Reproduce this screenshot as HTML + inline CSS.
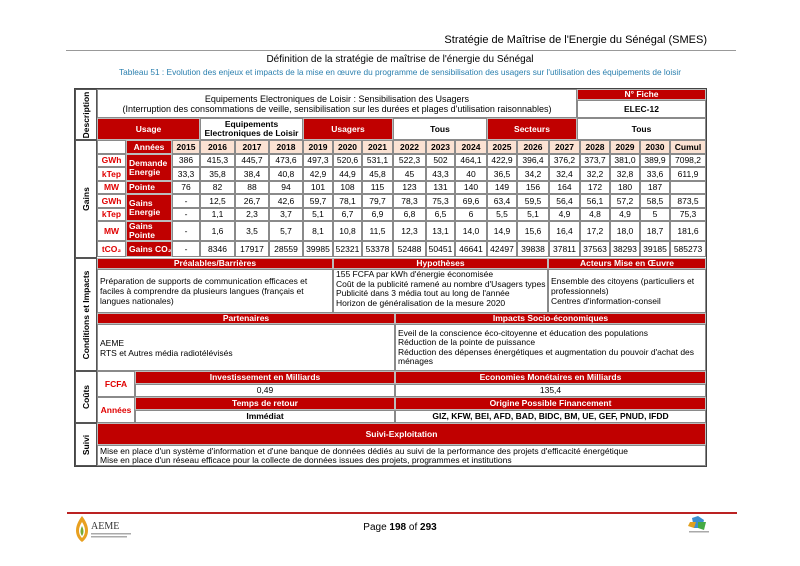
<!DOCTYPE html>
<html><head><meta charset="utf-8"><style>
body{margin:0;background:#fff;}
#p{position:relative;width:800px;height:566px;overflow:hidden;font-family:"Liberation Sans",sans-serif;}
.c{position:absolute;box-sizing:border-box;border:1px solid #8a8a8a;display:flex;align-items:center;justify-content:center;text-align:center;font-size:8.5px;line-height:9px;color:#000;background:#fff;white-space:nowrap;}
.r{background:#c00000;color:#fff;font-weight:bold;border-color:#bbb;}
.k{background:#fbe2d3;font-weight:bold;}
.u{color:#e00000;font-weight:bold;}
.l{justify-content:flex-start;text-align:left;padding-left:2px;}
.t{position:absolute;white-space:nowrap;}
.v{position:absolute;box-sizing:border-box;border:1px solid #555;background:#fff;}
.v span{position:absolute;left:50%;top:50%;transform:translate(-50%,-50%) rotate(-90deg);font-weight:bold;font-size:8.5px;white-space:nowrap;}
</style></head><body><div id="p">
<div class="t" style="right:93px;top:34px;font-size:11px;">Stratégie de Maîtrise de l'Energie du Sénégal (SMES)</div>
<div style="position:absolute;left:66px;top:50px;width:670px;height:1px;background:#999;"></div>
<div class="t" style="left:0;width:800px;text-align:center;top:54px;font-size:10px;">Définition de la stratégie de maîtrise de l'énergie du Sénégal</div>
<div class="t" style="left:0;width:800px;text-align:center;top:67px;font-size:8.3px;color:#2a7fae;">Tableau 51 : Evolution des enjeux et impacts de la mise en œuvre du programme de sensibilisation des usagers sur l'utilisation des équipements de loisir</div>

<div style="position:absolute;left:74px;top:88px;width:633px;height:379px;border:1px solid #444;box-sizing:border-box;"></div>
<div class="v" style="left:75px;top:89px;width:22px;height:51px;"><span>Description</span></div>
<div class="v" style="left:75px;top:140px;width:22px;height:118px;"><span>Gains</span></div>
<div class="v" style="left:75px;top:258px;width:22px;height:113px;"><span>Conditions et Impacts</span></div>
<div class="v" style="left:75px;top:371px;width:22px;height:52px;"><span>Coûts</span></div>
<div class="v" style="left:75px;top:423px;width:22px;height:43px;"><span>Suivi</span></div>

<div class="c" style="left:97px;top:89px;width:480px;height:29px;flex-direction:column;font-size:9px;line-height:10px;">Equipements Electroniques de Loisir : Sensibilisation des Usagers<br>(Interruption des consommations de veille, sensibilisation sur les durées et plages d'utilisation raisonnables)</div>
<div class="c r" style="left:577px;top:89px;width:129px;height:11px;">N° Fiche</div>
<div class="c" style="left:577px;top:100px;width:129px;height:18px;font-weight:bold;">ELEC-12</div>
<div class="c r" style="left:97px;top:118px;width:103px;height:22px;">Usage</div>
<div class="c" style="left:200px;top:118px;width:103px;height:22px;font-weight:bold;line-height:9px;">Equipements<br>Electroniques de Loisir</div>
<div class="c r" style="left:303px;top:118px;width:90px;height:22px;">Usagers</div>
<div class="c" style="left:393px;top:118px;width:94px;height:22px;font-weight:bold;">Tous</div>
<div class="c r" style="left:487px;top:118px;width:90px;height:22px;">Secteurs</div>
<div class="c" style="left:577px;top:118px;width:129px;height:22px;font-weight:bold;">Tous</div>

<div class="c" style="left:97px;top:140px;width:29px;height:14px;"></div>
<div class="c r" style="left:126px;top:140px;width:46px;height:14px;">Années</div>
<div class="c k" style="left:172px;top:140px;width:28px;height:14px;">2015</div>
<div class="c k" style="left:200px;top:140px;width:35px;height:14px;">2016</div>
<div class="c k" style="left:235px;top:140px;width:34px;height:14px;">2017</div>
<div class="c k" style="left:269px;top:140px;width:34px;height:14px;">2018</div>
<div class="c k" style="left:303px;top:140px;width:30px;height:14px;">2019</div>
<div class="c k" style="left:333px;top:140px;width:29px;height:14px;">2020</div>
<div class="c k" style="left:362px;top:140px;width:31px;height:14px;">2021</div>
<div class="c k" style="left:393px;top:140px;width:33px;height:14px;">2022</div>
<div class="c k" style="left:426px;top:140px;width:29px;height:14px;">2023</div>
<div class="c k" style="left:455px;top:140px;width:32px;height:14px;">2024</div>
<div class="c k" style="left:487px;top:140px;width:30px;height:14px;">2025</div>
<div class="c k" style="left:517px;top:140px;width:32px;height:14px;">2026</div>
<div class="c k" style="left:549px;top:140px;width:31px;height:14px;">2027</div>
<div class="c k" style="left:580px;top:140px;width:30px;height:14px;">2028</div>
<div class="c k" style="left:610px;top:140px;width:30px;height:14px;">2029</div>
<div class="c k" style="left:640px;top:140px;width:30px;height:14px;">2030</div>
<div class="c k" style="left:670px;top:140px;width:36px;height:14px;">Cumul</div>

<div class="c u" style="left:97px;top:154px;width:29px;height:13px;">GWh</div>
<div class="c u" style="left:97px;top:167px;width:29px;height:14px;">kTep</div>
<div class="c u" style="left:97px;top:181px;width:29px;height:13px;">MW</div>
<div class="c u" style="left:97px;top:194px;width:29px;height:14px;">GWh</div>
<div class="c u" style="left:97px;top:208px;width:29px;height:13px;">kTep</div>
<div class="c u" style="left:97px;top:221px;width:29px;height:20px;">MW</div>
<div class="c u" style="left:97px;top:241px;width:29px;height:16px;">tCO₂</div>
<div class="c r l" style="left:126px;top:154px;width:46px;height:27px;">Demande<br>Energie</div>
<div class="c r l" style="left:126px;top:181px;width:46px;height:13px;">Pointe</div>
<div class="c r l" style="left:126px;top:194px;width:46px;height:27px;">Gains<br>Energie</div>
<div class="c r l" style="left:126px;top:221px;width:46px;height:20px;">Gains<br>Pointe</div>
<div class="c r l" style="left:126px;top:241px;width:46px;height:16px;">Gains CO₂</div>

<div class="c" style="left:172px;top:154px;width:28px;height:13px;">386</div>
<div class="c" style="left:200px;top:154px;width:35px;height:13px;">415,3</div>
<div class="c" style="left:235px;top:154px;width:34px;height:13px;">445,7</div>
<div class="c" style="left:269px;top:154px;width:34px;height:13px;">473,6</div>
<div class="c" style="left:303px;top:154px;width:30px;height:13px;">497,3</div>
<div class="c" style="left:333px;top:154px;width:29px;height:13px;">520,6</div>
<div class="c" style="left:362px;top:154px;width:31px;height:13px;">531,1</div>
<div class="c" style="left:393px;top:154px;width:33px;height:13px;">522,3</div>
<div class="c" style="left:426px;top:154px;width:29px;height:13px;">502</div>
<div class="c" style="left:455px;top:154px;width:32px;height:13px;">464,1</div>
<div class="c" style="left:487px;top:154px;width:30px;height:13px;">422,9</div>
<div class="c" style="left:517px;top:154px;width:32px;height:13px;">396,4</div>
<div class="c" style="left:549px;top:154px;width:31px;height:13px;">376,2</div>
<div class="c" style="left:580px;top:154px;width:30px;height:13px;">373,7</div>
<div class="c" style="left:610px;top:154px;width:30px;height:13px;">381,0</div>
<div class="c" style="left:640px;top:154px;width:30px;height:13px;">389,9</div>
<div class="c" style="left:670px;top:154px;width:36px;height:13px;">7098,2</div>
<div class="c" style="left:172px;top:167px;width:28px;height:14px;">33,3</div>
<div class="c" style="left:200px;top:167px;width:35px;height:14px;">35,8</div>
<div class="c" style="left:235px;top:167px;width:34px;height:14px;">38,4</div>
<div class="c" style="left:269px;top:167px;width:34px;height:14px;">40,8</div>
<div class="c" style="left:303px;top:167px;width:30px;height:14px;">42,9</div>
<div class="c" style="left:333px;top:167px;width:29px;height:14px;">44,9</div>
<div class="c" style="left:362px;top:167px;width:31px;height:14px;">45,8</div>
<div class="c" style="left:393px;top:167px;width:33px;height:14px;">45</div>
<div class="c" style="left:426px;top:167px;width:29px;height:14px;">43,3</div>
<div class="c" style="left:455px;top:167px;width:32px;height:14px;">40</div>
<div class="c" style="left:487px;top:167px;width:30px;height:14px;">36,5</div>
<div class="c" style="left:517px;top:167px;width:32px;height:14px;">34,2</div>
<div class="c" style="left:549px;top:167px;width:31px;height:14px;">32,4</div>
<div class="c" style="left:580px;top:167px;width:30px;height:14px;">32,2</div>
<div class="c" style="left:610px;top:167px;width:30px;height:14px;">32,8</div>
<div class="c" style="left:640px;top:167px;width:30px;height:14px;">33,6</div>
<div class="c" style="left:670px;top:167px;width:36px;height:14px;">611,9</div>
<div class="c" style="left:172px;top:181px;width:28px;height:13px;">76</div>
<div class="c" style="left:200px;top:181px;width:35px;height:13px;">82</div>
<div class="c" style="left:235px;top:181px;width:34px;height:13px;">88</div>
<div class="c" style="left:269px;top:181px;width:34px;height:13px;">94</div>
<div class="c" style="left:303px;top:181px;width:30px;height:13px;">101</div>
<div class="c" style="left:333px;top:181px;width:29px;height:13px;">108</div>
<div class="c" style="left:362px;top:181px;width:31px;height:13px;">115</div>
<div class="c" style="left:393px;top:181px;width:33px;height:13px;">123</div>
<div class="c" style="left:426px;top:181px;width:29px;height:13px;">131</div>
<div class="c" style="left:455px;top:181px;width:32px;height:13px;">140</div>
<div class="c" style="left:487px;top:181px;width:30px;height:13px;">149</div>
<div class="c" style="left:517px;top:181px;width:32px;height:13px;">156</div>
<div class="c" style="left:549px;top:181px;width:31px;height:13px;">164</div>
<div class="c" style="left:580px;top:181px;width:30px;height:13px;">172</div>
<div class="c" style="left:610px;top:181px;width:30px;height:13px;">180</div>
<div class="c" style="left:640px;top:181px;width:30px;height:13px;">187</div>
<div class="c" style="left:670px;top:181px;width:36px;height:13px;"></div>
<div class="c" style="left:172px;top:194px;width:28px;height:14px;">-</div>
<div class="c" style="left:200px;top:194px;width:35px;height:14px;">12,5</div>
<div class="c" style="left:235px;top:194px;width:34px;height:14px;">26,7</div>
<div class="c" style="left:269px;top:194px;width:34px;height:14px;">42,6</div>
<div class="c" style="left:303px;top:194px;width:30px;height:14px;">59,7</div>
<div class="c" style="left:333px;top:194px;width:29px;height:14px;">78,1</div>
<div class="c" style="left:362px;top:194px;width:31px;height:14px;">79,7</div>
<div class="c" style="left:393px;top:194px;width:33px;height:14px;">78,3</div>
<div class="c" style="left:426px;top:194px;width:29px;height:14px;">75,3</div>
<div class="c" style="left:455px;top:194px;width:32px;height:14px;">69,6</div>
<div class="c" style="left:487px;top:194px;width:30px;height:14px;">63,4</div>
<div class="c" style="left:517px;top:194px;width:32px;height:14px;">59,5</div>
<div class="c" style="left:549px;top:194px;width:31px;height:14px;">56,4</div>
<div class="c" style="left:580px;top:194px;width:30px;height:14px;">56,1</div>
<div class="c" style="left:610px;top:194px;width:30px;height:14px;">57,2</div>
<div class="c" style="left:640px;top:194px;width:30px;height:14px;">58,5</div>
<div class="c" style="left:670px;top:194px;width:36px;height:14px;">873,5</div>
<div class="c" style="left:172px;top:208px;width:28px;height:13px;">-</div>
<div class="c" style="left:200px;top:208px;width:35px;height:13px;">1,1</div>
<div class="c" style="left:235px;top:208px;width:34px;height:13px;">2,3</div>
<div class="c" style="left:269px;top:208px;width:34px;height:13px;">3,7</div>
<div class="c" style="left:303px;top:208px;width:30px;height:13px;">5,1</div>
<div class="c" style="left:333px;top:208px;width:29px;height:13px;">6,7</div>
<div class="c" style="left:362px;top:208px;width:31px;height:13px;">6,9</div>
<div class="c" style="left:393px;top:208px;width:33px;height:13px;">6,8</div>
<div class="c" style="left:426px;top:208px;width:29px;height:13px;">6,5</div>
<div class="c" style="left:455px;top:208px;width:32px;height:13px;">6</div>
<div class="c" style="left:487px;top:208px;width:30px;height:13px;">5,5</div>
<div class="c" style="left:517px;top:208px;width:32px;height:13px;">5,1</div>
<div class="c" style="left:549px;top:208px;width:31px;height:13px;">4,9</div>
<div class="c" style="left:580px;top:208px;width:30px;height:13px;">4,8</div>
<div class="c" style="left:610px;top:208px;width:30px;height:13px;">4,9</div>
<div class="c" style="left:640px;top:208px;width:30px;height:13px;">5</div>
<div class="c" style="left:670px;top:208px;width:36px;height:13px;">75,3</div>
<div class="c" style="left:172px;top:221px;width:28px;height:20px;">-</div>
<div class="c" style="left:200px;top:221px;width:35px;height:20px;">1,6</div>
<div class="c" style="left:235px;top:221px;width:34px;height:20px;">3,5</div>
<div class="c" style="left:269px;top:221px;width:34px;height:20px;">5,7</div>
<div class="c" style="left:303px;top:221px;width:30px;height:20px;">8,1</div>
<div class="c" style="left:333px;top:221px;width:29px;height:20px;">10,8</div>
<div class="c" style="left:362px;top:221px;width:31px;height:20px;">11,5</div>
<div class="c" style="left:393px;top:221px;width:33px;height:20px;">12,3</div>
<div class="c" style="left:426px;top:221px;width:29px;height:20px;">13,1</div>
<div class="c" style="left:455px;top:221px;width:32px;height:20px;">14,0</div>
<div class="c" style="left:487px;top:221px;width:30px;height:20px;">14,9</div>
<div class="c" style="left:517px;top:221px;width:32px;height:20px;">15,6</div>
<div class="c" style="left:549px;top:221px;width:31px;height:20px;">16,4</div>
<div class="c" style="left:580px;top:221px;width:30px;height:20px;">17,2</div>
<div class="c" style="left:610px;top:221px;width:30px;height:20px;">18,0</div>
<div class="c" style="left:640px;top:221px;width:30px;height:20px;">18,7</div>
<div class="c" style="left:670px;top:221px;width:36px;height:20px;">181,6</div>
<div class="c" style="left:172px;top:241px;width:28px;height:16px;">-</div>
<div class="c" style="left:200px;top:241px;width:35px;height:16px;">8346</div>
<div class="c" style="left:235px;top:241px;width:34px;height:16px;">17917</div>
<div class="c" style="left:269px;top:241px;width:34px;height:16px;">28559</div>
<div class="c" style="left:303px;top:241px;width:30px;height:16px;">39985</div>
<div class="c" style="left:333px;top:241px;width:29px;height:16px;">52321</div>
<div class="c" style="left:362px;top:241px;width:31px;height:16px;">53378</div>
<div class="c" style="left:393px;top:241px;width:33px;height:16px;">52488</div>
<div class="c" style="left:426px;top:241px;width:29px;height:16px;">50451</div>
<div class="c" style="left:455px;top:241px;width:32px;height:16px;">46641</div>
<div class="c" style="left:487px;top:241px;width:30px;height:16px;">42497</div>
<div class="c" style="left:517px;top:241px;width:32px;height:16px;">39838</div>
<div class="c" style="left:549px;top:241px;width:31px;height:16px;">37811</div>
<div class="c" style="left:580px;top:241px;width:30px;height:16px;">37563</div>
<div class="c" style="left:610px;top:241px;width:30px;height:16px;">38293</div>
<div class="c" style="left:640px;top:241px;width:30px;height:16px;">39185</div>
<div class="c" style="left:670px;top:241px;width:36px;height:16px;">585273</div>

<div class="c r" style="left:97px;top:258px;width:236px;height:11px;">Préalables/Barrières</div>
<div class="c r" style="left:333px;top:258px;width:215px;height:11px;">Hypothèses</div>
<div class="c r" style="left:548px;top:258px;width:158px;height:11px;">Acteurs Mise en Œuvre</div>
<div class="c l" style="left:97px;top:269px;width:236px;height:44px;white-space:normal;line-height:10px;">Préparation de supports de communication efficaces et faciles à comprendre da plusieurs langues (français et langues nationales)</div>
<div class="c l" style="left:333px;top:269px;width:215px;height:44px;white-space:normal;line-height:9.5px;align-items:flex-start;">155 FCFA par kWh d'énergie économisée<br>Coût de la publicité ramené au nombre d'Usagers types<br>Publicité dans 3 média tout au long de l'année<br>Horizon de généralisation de la mesure 2020</div>
<div class="c l" style="left:548px;top:269px;width:158px;height:44px;white-space:normal;line-height:10px;">Ensemble des citoyens (particuliers et professionnels)<br>Centres d'information-conseil</div>
<div class="c r" style="left:97px;top:313px;width:298px;height:11px;">Partenaires</div>
<div class="c r" style="left:395px;top:313px;width:311px;height:11px;">Impacts Socio-économiques</div>
<div class="c l" style="left:97px;top:324px;width:298px;height:47px;line-height:10px;">AEME<br>RTS et Autres média radiotélévisés</div>
<div class="c l" style="left:395px;top:324px;width:311px;height:47px;white-space:normal;line-height:9.5px;">Eveil de la conscience éco-citoyenne et éducation des populations<br>Réduction de la pointe de puissance<br>Réduction des dépenses énergétiques et augmentation du pouvoir d'achat des ménages</div>

<div class="c u" style="left:97px;top:371px;width:38px;height:26px;">FCFA</div>
<div class="c r" style="left:135px;top:371px;width:260px;height:13px;">Investissement en Milliards</div>
<div class="c r" style="left:395px;top:371px;width:311px;height:13px;">Economies Monétaires en Milliards</div>
<div class="c" style="left:135px;top:384px;width:260px;height:13px;">0,49</div>
<div class="c" style="left:395px;top:384px;width:311px;height:13px;">135,4</div>
<div class="c u" style="left:97px;top:397px;width:38px;height:26px;">Années</div>
<div class="c r" style="left:135px;top:397px;width:260px;height:13px;">Temps de retour</div>
<div class="c r" style="left:395px;top:397px;width:311px;height:13px;">Origine Possible Financement</div>
<div class="c" style="left:135px;top:410px;width:260px;height:13px;font-weight:bold;">Immédiat</div>
<div class="c" style="left:395px;top:410px;width:311px;height:13px;font-weight:bold;">GIZ, KFW, BEI, AFD, BAD, BIDC, BM, UE, GEF, PNUD, IFDD</div>

<div class="c r" style="left:97px;top:423px;width:609px;height:22px;">Suivi-Exploitation</div>
<div class="c l" style="left:97px;top:445px;width:609px;height:21px;line-height:9px;">Mise en place d'un système d'information et d'une banque de données dédiés au suivi de la performance des projets d'efficacité énergétique<br>Mise en place d'un réseau efficace pour la collecte de données issues des projets, programmes et institutions</div>

<div style="position:absolute;left:67px;top:512px;width:670px;height:2px;background:#b22;"></div>
<div class="t" style="left:0;width:800px;text-align:center;top:522px;font-size:10px;">Page <b>198</b> of <b>293</b></div>
<svg style="position:absolute;left:70px;top:514px" width="70" height="30"><path d="M12 2 C4 12 4 22 12 28 C20 22 20 12 12 2Z" fill="#e8a020"/><path d="M12 8 C8 14 8 20 12 24 C16 20 16 14 12 8Z" fill="#fff"/><path d="M12 12 C10 16 10 19 12 22 C14 19 14 16 12 12Z" fill="#7a3"/><text x="21" y="15" font-size="10" font-family="Liberation Serif,serif" fill="#333">AEME</text><rect x="21" y="19" width="40" height="1.5" fill="#aaa"/><rect x="21" y="22" width="36" height="1.5" fill="#aaa"/></svg>
<svg style="position:absolute;left:684px;top:514px" width="30" height="26"><path d="M8 4 L14 2 L20 6 L18 14 L10 14Z" fill="#3a8fd0"/><path d="M6 8 L12 8 L10 14 L4 12Z" fill="#e0a020"/><path d="M14 8 L22 8 L20 16 L14 14Z" fill="#4a4"/><rect x="5" y="17" width="20" height="1.5" fill="#aaa"/></svg>
</div></body></html>
